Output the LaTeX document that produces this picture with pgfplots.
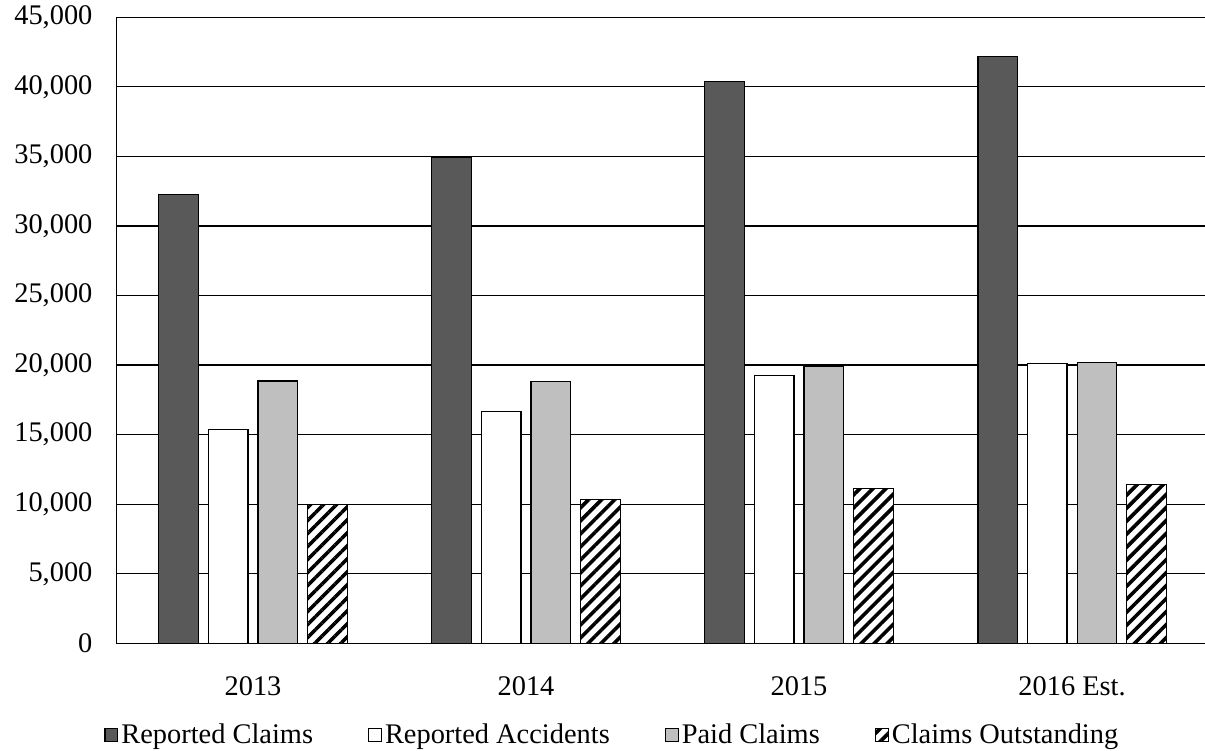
\documentclass[border=0pt]{standalone}
\usepackage{fontspec}
\setmainfont{Liberation Serif}
\usepackage{pgfplots}
\pgfplotsset{compat=1.18}
\usetikzlibrary{patterns.meta}
\definecolor{darkbar}{RGB}{89,89,89}
\definecolor{lightbar}{RGB}{191,191,191}
\begin{document}
\begin{tikzpicture}
\begin{axis}[
  at={(0pt,0pt)}, anchor=south west,
  scale only axis,
  width=544.25pt, height=313pt,
  xmin=-0.5, xmax=3.487,
  ymin=0, ymax=45000,
  ytick={0,5000,...,45000},
  xtick={0,1,2,3},
  xticklabels={2013,2014,2015,2016 Est.},
  scaled y ticks=false,
  /pgf/number format/.cd, 1000 sep={,}, assume math mode=true, /pgfplots/.cd,
  ymajorgrids,
  grid style={black, line width=0.6pt},
  axis lines=left,
  axis line style={-, black, line width=0.6pt},
  major tick length=0pt,
  tick label style={font=\fontsize{14.2}{17}\selectfont, text=black},
  yticklabel style={xshift=-8.5pt},
  xticklabel style={yshift=-13pt},
  ybar=5.05pt,
  bar width=19.75pt,
  every axis plot/.append style={line width=0.6pt,
    legend image code/.code={\draw[##1, line width=0.6pt] (0pt,-3.2pt) rectangle (6.4pt,3.2pt);}},
  legend columns=4,
  legend style={at={(-0.0115,-0.1465)}, anchor=west, draw=none, fill=none,
    inner sep=0pt, font=\fontsize{14.2}{17}\selectfont,
    nodes={inner xsep=1.5pt, inner ysep=1pt},
    /tikz/every even column/.append style={column sep=26pt}},
]
\addplot[draw=black, fill=darkbar] coordinates {(0,32250) (1,34950) (2,40400) (3,42200)};
\addplot[draw=black, fill=white] coordinates {(0,15350) (1,16650) (2,19250) (3,20100)};
\addplot[draw=black, fill=lightbar] coordinates {(0,18850) (1,18800) (2,19900) (3,20200)};
\addplot[draw=black, fill=white, postaction={pattern={Lines[angle=45,distance=4.6pt,line width=1.8pt]}, pattern color=black}] coordinates {(0,9950) (1,10350) (2,11150) (3,11400)};
\legend{Reported Claims, Reported Accidents, Paid Claims, Claims Outstanding}
\end{axis}
\pgfresetboundingbox
\path[use as bounding box] (-58.25pt,-53.35pt) rectangle (544.25pt,321.65pt);
\end{tikzpicture}
\end{document}
